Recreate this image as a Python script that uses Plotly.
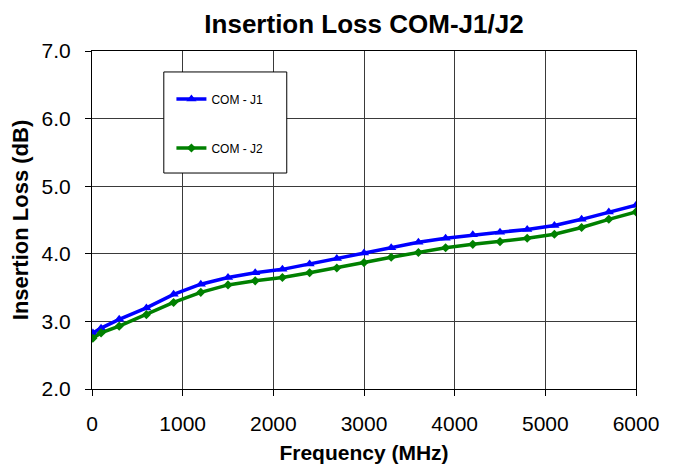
import plotly.graph_objects as go

freq_mhz = [10, 100, 300, 600, 900, 1200, 1500, 1800, 2100, 2400, 2700, 3000,
            3300, 3600, 3900, 4200, 4500, 4800, 5100, 5400, 5700, 6000]
loss_j1 = [2.83, 2.90, 3.03, 3.20, 3.40, 3.55, 3.65, 3.72, 3.77, 3.85, 3.93, 4.01,
           4.09, 4.17, 4.23, 4.28, 4.32, 4.36, 4.42, 4.51, 4.62, 4.72]
loss_j2 = [2.75, 2.83, 2.93, 3.10, 3.28, 3.43, 3.54, 3.60, 3.65, 3.72, 3.79, 3.87,
           3.95, 4.02, 4.09, 4.14, 4.18, 4.23, 4.29, 4.39, 4.51, 4.62]
x_ticks = [0, 1000, 2000, 3000, 4000, 5000, 6000]
y_ticks = [2.0, 3.0, 4.0, 5.0, 6.0, 7.0]

FONT = "Arial, Liberation Sans, sans-serif"

fig = go.Figure()
fig.add_trace(go.Scatter(x=freq_mhz, y=loss_j1, mode="lines+markers", name="COM - J1",
                         legendgroup="a",
                         line=dict(color="#0000FF", width=3.5),
                         marker=dict(symbol="triangle-up", size=9, color="#0000FF")))
fig.add_trace(go.Scatter(x=freq_mhz, y=loss_j2, mode="lines+markers", name="COM - J2",
                         legendgroup="b",
                         line=dict(color="#008000", width=3.5),
                         marker=dict(symbol="diamond", size=7, color="#008000")))

axis_common = dict(showline=True, linecolor="black", linewidth=1, mirror=True,
                   showgrid=True, gridcolor="#3a3a3a", gridwidth=1,
                   ticks="outside", ticklen=6, tickcolor="black",
                   tickfont=dict(family=FONT, size=21, color="black"),
                   zeroline=False, automargin=False)

fig.update_xaxes(range=[0, 6000], tickvals=x_ticks, ticklabelstandoff=10,
                 title=dict(text="<b>Frequency (MHz)</b>", standoff=11,
                            font=dict(family=FONT, size=21, color="black")),
                 **axis_common)
fig.update_yaxes(range=[2.0, 7.0], tickvals=y_ticks, tickformat=".1f", ticklabelstandoff=10,
                 title=dict(text="<b>Insertion Loss (dB)</b>", standoff=6,
                            font=dict(family=FONT, size=22, color="black")),
                 **axis_common)

fig.add_shape(type="rect", xref="paper", yref="paper", x0=0.132, x1=0.358, y0=0.639, y1=0.938,
              line=dict(color="black", width=1), fillcolor="white", layer="above")

fig.update_layout(
    width=667, height=464,
    margin=dict(l=84, r=39, t=43, b=83),
    paper_bgcolor="white", plot_bgcolor="white",
    title=dict(text="<b>Insertion Loss COM-J1/J2</b>", xref="paper", x=0.5, xanchor="center",
               y=0.966, yanchor="middle",
               font=dict(family=FONT, size=26, color="black")),
    showlegend=True,
    legend=dict(x=0.146, y=0.901, xanchor="left", yanchor="top", bgcolor="rgba(0,0,0,0)",
                borderwidth=0, traceorder="grouped", tracegroupgap=30, itemwidth=30,
                font=dict(family=FONT, size=12, color="black")),
)

fig.write_html("out.html")
